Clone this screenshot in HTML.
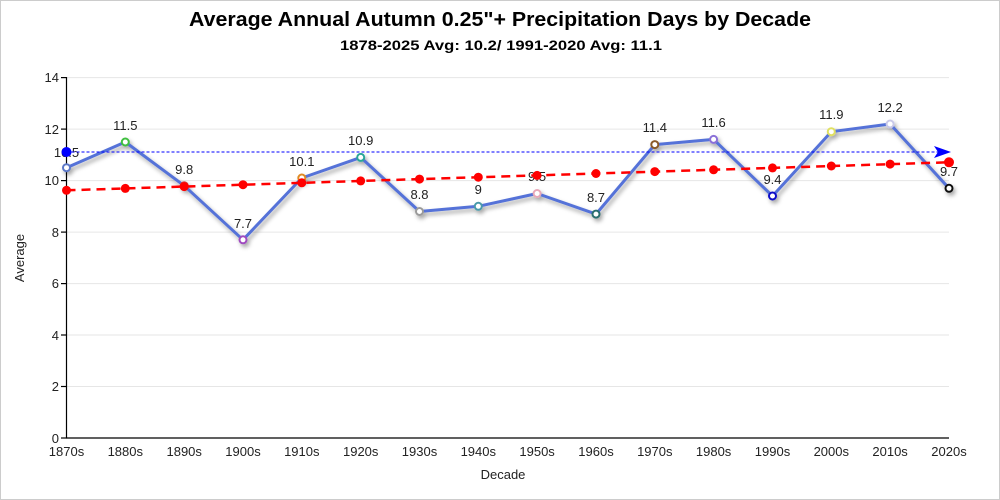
<!DOCTYPE html>
<html><head><meta charset="utf-8"><style>
html,body{margin:0;padding:0;background:#fff;}
svg{display:block;}
text{font-family:"Liberation Sans",sans-serif;}
</style></head><body>
<svg width="1000" height="500" viewBox="0 0 1000 500" xmlns="http://www.w3.org/2000/svg">
<defs>
<filter id="sh" x="-20%" y="-20%" width="140%" height="160%">
<feDropShadow dx="2" dy="3" stdDeviation="2.2" flood-color="#000" flood-opacity="0.35"/>
</filter>
</defs>
<rect x="0.5" y="0.5" width="999" height="499" fill="#fff" stroke="#cccccc"/>
<text x="500" y="26" text-anchor="middle" font-size="20" font-weight="bold" fill="#000" textLength="622" lengthAdjust="spacingAndGlyphs">Average Annual Autumn 0.25"+ Precipitation Days by Decade</text>
<text x="501" y="50" text-anchor="middle" font-size="14" font-weight="bold" fill="#000" textLength="322" lengthAdjust="spacingAndGlyphs">1878-2025 Avg: 10.2/ 1991-2020 Avg: 11.1</text>
<!-- grid -->
<g stroke="#e6e6e6" stroke-width="1">
<line x1="66.5" y1="386.5" x2="949" y2="386.5"/>
<line x1="66.5" y1="335" x2="949" y2="335"/>
<line x1="66.5" y1="283.6" x2="949" y2="283.6"/>
<line x1="66.5" y1="232.1" x2="949" y2="232.1"/>
<line x1="66.5" y1="180.6" x2="949" y2="180.6"/>
<line x1="66.5" y1="129.1" x2="949" y2="129.1"/>
<line x1="66.5" y1="77.6" x2="949" y2="77.6"/>
</g>
<!-- axes -->
<g stroke="#000" stroke-width="1.2">
<line x1="66.5" y1="77" x2="66.5" y2="438"/>
<line x1="66" y1="438" x2="949" y2="438"/>
<line x1="61" y1="438" x2="66.5" y2="438"/>
<line x1="61" y1="386.5" x2="66.5" y2="386.5"/>
<line x1="61" y1="335" x2="66.5" y2="335"/>
<line x1="61" y1="283.6" x2="66.5" y2="283.6"/>
<line x1="61" y1="232.1" x2="66.5" y2="232.1"/>
<line x1="61" y1="180.6" x2="66.5" y2="180.6"/>
<line x1="61" y1="129.1" x2="66.5" y2="129.1"/>
<line x1="61" y1="77.6" x2="66.5" y2="77.6"/>
</g>
<g font-size="13" fill="#222" text-anchor="end">
<text x="59" y="443">0</text>
<text x="59" y="391">2</text>
<text x="59" y="340">4</text>
<text x="59" y="288">6</text>
<text x="59" y="237">8</text>
<text x="59" y="185">10</text>
<text x="59" y="134">12</text>
<text x="59" y="82">14</text>
</g>
<g font-size="13" fill="#222" text-anchor="middle">
<text x="66.5" y="456">1870s</text>
<text x="125.3" y="456">1880s</text>
<text x="184.2" y="456">1890s</text>
<text x="243" y="456">1900s</text>
<text x="301.8" y="456">1910s</text>
<text x="360.7" y="456">1920s</text>
<text x="419.5" y="456">1930s</text>
<text x="478.3" y="456">1940s</text>
<text x="537.1" y="456">1950s</text>
<text x="596" y="456">1960s</text>
<text x="654.8" y="456">1970s</text>
<text x="713.6" y="456">1980s</text>
<text x="772.5" y="456">1990s</text>
<text x="831.3" y="456">2000s</text>
<text x="890.1" y="456">2010s</text>
<text x="949" y="456">2020s</text>
</g>
<text x="503" y="479" text-anchor="middle" font-size="13" fill="#222">Decade</text>
<text transform="translate(24,258) rotate(-90)" text-anchor="middle" font-size="13" fill="#222">Average</text>
<!-- main series -->
<g filter="url(#sh)">
<polyline fill="none" stroke="#5572d8" stroke-width="3" stroke-linejoin="round" points="66.5,167.7 125.3,142 184.2,185.7 243,239.8 301.8,178 360.7,157.4 419.5,211.5 478.3,206.3 537.1,193.5 596,214.1 654.8,144.6 713.6,139.4 772.5,196 831.3,131.7 890.1,124 949,188.3"/>
<g fill="#fff" stroke-width="2">
<circle cx="66.5" cy="167.7" r="3.5" stroke="#5b78c8"/>
<circle cx="125.3" cy="142" r="3.5" stroke="#3fbf3f"/>
<circle cx="184.2" cy="185.7" r="3.5" stroke="#d04040"/>
<circle cx="243" cy="239.8" r="3.5" stroke="#a04cc0"/>
<circle cx="301.8" cy="178" r="3.5" stroke="#e08a20"/>
<circle cx="360.7" cy="157.4" r="3.5" stroke="#2aa698"/>
<circle cx="419.5" cy="211.5" r="3.5" stroke="#9a9a9a"/>
<circle cx="478.3" cy="206.3" r="3.5" stroke="#4a9aaa"/>
<circle cx="537.1" cy="193.5" r="3.5" stroke="#e8a8b8"/>
<circle cx="596" cy="214.1" r="3.5" stroke="#2a6e6e"/>
<circle cx="654.8" cy="144.6" r="3.5" stroke="#8a5a2a"/>
<circle cx="713.6" cy="139.4" r="3.5" stroke="#8a70d8"/>
<circle cx="772.5" cy="196" r="3.5" stroke="#1010c8"/>
<circle cx="831.3" cy="131.7" r="3.5" stroke="#e0e060"/>
<circle cx="890.1" cy="124" r="3.5" stroke="#c8c8e8"/>
<circle cx="949" cy="188.3" r="3.5" stroke="#111"/>
</g>
</g>
<g font-size="13" fill="#222" text-anchor="middle">
<text x="66.5" y="157">10.5</text>
<text x="125.3" y="130">11.5</text>
<text x="184.2" y="174">9.8</text>
<text x="243" y="228">7.7</text>
<text x="301.8" y="166">10.1</text>
<text x="360.7" y="145">10.9</text>
<text x="419.5" y="199">8.8</text>
<text x="478.3" y="194">9</text>
<text x="537.1" y="181">9.5</text>
<text x="596" y="202">8.7</text>
<text x="654.8" y="132">11.4</text>
<text x="713.6" y="127">11.6</text>
<text x="772.5" y="184">9.4</text>
<text x="831.3" y="119">11.9</text>
<text x="890.1" y="112">12.2</text>
<text x="949" y="176">9.7</text>
</g>
<!-- trend -->
<line x1="66.5" y1="190.3" x2="949" y2="162.3" stroke="#ff0000" stroke-width="2.5" stroke-dasharray="9,6"/>
<g fill="#ff0000">
<circle cx="66.5" cy="190.3" r="4.5"/>
<circle cx="125.3" cy="188.4" r="4.5"/>
<circle cx="184.2" cy="186.6" r="4.5"/>
<circle cx="243" cy="184.7" r="4.5"/>
<circle cx="301.8" cy="182.8" r="4.5"/>
<circle cx="360.7" cy="180.9" r="4.5"/>
<circle cx="419.5" cy="179.1" r="4.5"/>
<circle cx="478.3" cy="177.2" r="4.5"/>
<circle cx="537.1" cy="175.4" r="4.5"/>
<circle cx="596" cy="173.5" r="4.5"/>
<circle cx="654.8" cy="171.6" r="4.5"/>
<circle cx="713.6" cy="169.8" r="4.5"/>
<circle cx="772.5" cy="167.9" r="4.5"/>
<circle cx="831.3" cy="166" r="4.5"/>
<circle cx="890.1" cy="164.1" r="4.5"/>
<circle cx="949" cy="162.3" r="5"/>
</g>
<!-- average line -->
<line x1="66.5" y1="152" x2="940" y2="152" stroke="#0000ff" stroke-width="1" stroke-dasharray="3,2"/>
<circle cx="66.5" cy="152" r="5" fill="#0000ff"/>
<path d="M934,146 L951,152 L934,158 L938,152 Z" fill="#0000ff"/>
</svg>
</body></html>
